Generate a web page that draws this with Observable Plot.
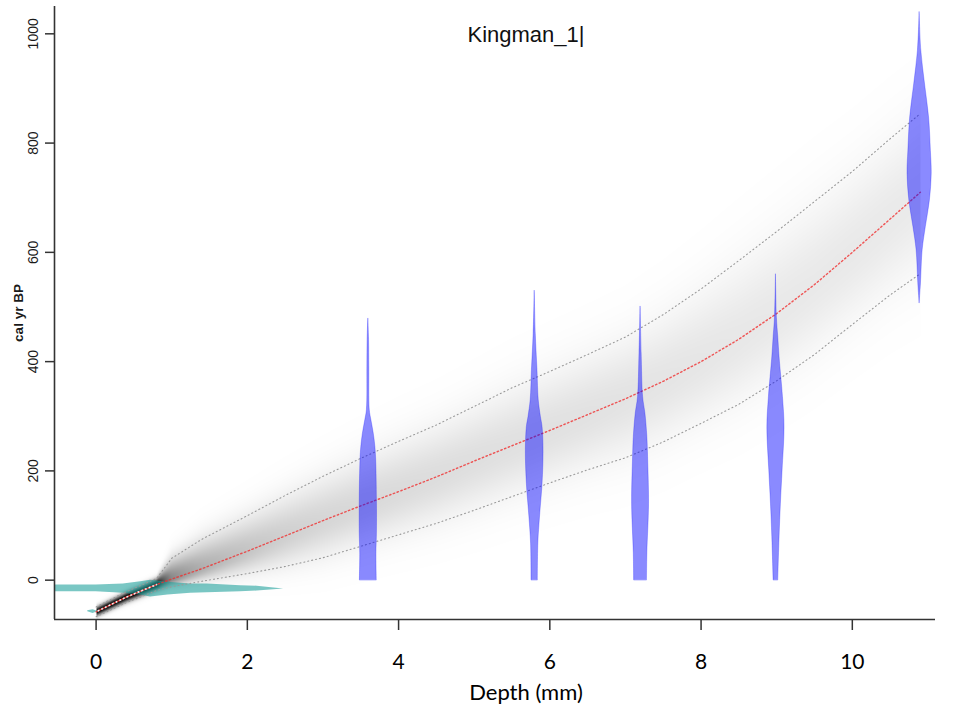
<!DOCTYPE html>
<html>
<head>
<meta charset="utf-8">
<script src="https://cdn.jsdelivr.net/npm/d3@7"></script>
<script src="https://cdn.jsdelivr.net/npm/@observablehq/plot@0.6"></script>
<style>
  body { margin: 0; background: #fff; }
  #chart { width: 953px; height: 719px; }
</style>
</head>
<body>
<div id="chart"></div>
<script>
// ---- labels and ticks ----
const title = "Kingman_1|";
const xLabel = "Depth (mm)";
const yLabel = "cal yr BP";
const xTicks = [0, 2, 4, 6, 8, 10];
const yTicks = [0, 200, 400, 600, 800, 1000];

// ---- age-depth model (depth in mm, ages in cal yr BP) ----
const modelDepth = [0, 0.4, 0.8, 1.0, 1.4, 2.0, 2.5, 3.0, 3.5, 4.0, 4.5, 5.0, 5.5, 6.0, 6.5, 7.0, 7.5, 8.0, 8.5, 9.0, 9.5, 10.0, 10.5, 10.9];
const modelMean  = [-58, -31, -8, 2, 21, 53, 81, 109, 136, 162, 189, 218, 246, 274, 303, 332, 364, 400, 441, 488, 541, 600, 661, 710];
const modelYoung = [-67, -41, -19, -12, -2, 12, 25, 41, 62, 83, 104, 128, 153, 178, 202, 224, 253, 287, 322, 365, 413, 468, 522, 561];
const modelOld   = [-49, -21, 3, 40, 75, 118, 155, 190, 223, 254, 284, 318, 352, 382, 413, 445, 486, 533, 585, 638, 693, 748, 808, 854];

// ---- calibrated date distributions (age, relative density) ----
const dateDepth = [3.60, 5.80, 7.20, 8.99, 10.89];
const date1Age  = [0, 49, 85, 146, 219, 244, 268, 293, 311, 390, 440, 479];
const date1Dens = [0.70, 0.67, 0.71, 0.71, 0.65, 0.58, 0.45, 0.25, 0.12, 0.08, 0.06, 0];
const date2Age  = [0, 67, 116, 177, 238, 280, 299, 330, 384, 450, 530];
const date2Dens = [0.26, 0.30, 0.44, 0.65, 0.73, 0.65, 0.51, 0.33, 0.23, 0.09, 0];
const date3Age  = [0, 49, 140, 225, 262, 305, 335, 415, 501];
const date3Dens = [0.53, 0.56, 0.70, 0.62, 0.56, 0.40, 0.21, 0.09, 0];
const date4Age  = [0, 79, 140, 201, 280, 335, 408, 445, 480, 560];
const date4Dens = [0.19, 0.30, 0.41, 0.55, 0.71, 0.58, 0.30, 0.19, 0.08, 0];
const date5Age  = [507, 543, 604, 646, 695, 744, 786, 847, 909, 969, 1040];
const date5Dens = [0, 0.11, 0.25, 0.51, 0.85, 1.0, 0.93, 0.78, 0.44, 0.14, 0];

// ---- surface age constraint (depth range, age bounds) ----
const surfaceDepth  = [-0.55, 0, 0.36, 0.59, 0.72, 0.95, 1.25, 1.47, 1.91, 2.13, 2.48];
const surfaceTop    = [-9, -9, -7, -3, 0, -4, -7, -7, -10, -11, -16];
const surfaceBottom = [-21, -21, -24, -27, -31, -27, -24, -23, -21, -20, -16];
const topDepth  = [-0.11, -0.04, 0.02];
const topUpper  = [-56, -54, -57];
const topLower  = [-58, -61, -58];

// ---- plot settings ----
const xDomain = [-0.55, 11.1];
const yDomain = [-72, 1050];
const violinHalfWidth = 0.16;   // mm at relative density 1
const shadeGain = 24;           // darkness scale of the age-model cloud
const shadeSpread = 1.55;       // range half-width in standard deviations

const modelRows = modelDepth.map((d, i) => ({depth: d, mean: modelMean[i], young: modelYoung[i], old: modelOld[i]}));
const surfaceRows = surfaceDepth.map((d, i) => ({depth: d, top: surfaceTop[i], bottom: surfaceBottom[i]}));
const topRows = topDepth.map((d, i) => ({depth: d, top: topUpper[i], bottom: topLower[i]}));

const dateAges = [date1Age, date2Age, date3Age, date4Age, date5Age];
const dateDens = [date1Dens, date2Dens, date3Dens, date4Dens, date5Dens];
const violinRows = dateDepth.flatMap((depth, k) =>
  dateAges[k].map((age, i) => ({
    date: k, age,
    x1: depth - dateDens[k][i] * violinHalfWidth,
    x2: depth + dateDens[k][i] * violinHalfWidth
  })));

function interp(xs, ys, x) {
  const i = d3.bisectRight(xs, x);
  if (i <= 0) return ys[0];
  if (i >= xs.length) return ys[ys.length - 1];
  const t = (x - xs[i - 1]) / (xs[i] - xs[i - 1]);
  return ys[i - 1] + t * (ys[i] - ys[i - 1]);
}

// probability cloud: skewed gaussian around the mean, darker where the range is narrow
function cloud(x, y) {
  if (x < modelDepth[0] || x > modelDepth[modelDepth.length - 1]) return 0;
  const m = interp(modelDepth, modelMean, x);
  const lo = interp(modelDepth, modelYoung, x);
  const hi = interp(modelDepth, modelOld, x);
  const sd = (y >= m ? hi - m : m - lo) / shadeSpread;
  const z = (y - m) / Math.max(sd, 1e-6);
  const peak = Math.min(1, shadeGain / Math.max(hi - lo, 1e-6));
  return peak * Math.exp(-0.5 * z * z);
}

const axisColor = "#333";
const sans = "Liberation Sans, Arial, sans-serif";
const calib = "Lato, Carlito, sans-serif";
const meanDash = "1.5 2.5";

const chart = Plot.plot({
  width: 953,
  height: 719,
  marginLeft: 54,
  marginRight: 18,
  marginTop: 6,
  marginBottom: 100,
  x: {domain: xDomain, axis: null},
  y: {domain: yDomain, axis: null},
  color: {type: "linear", domain: [0, 1], range: ["#ffffff", "#000000"]},
  style: {background: "white"},
  marks: [
    Plot.raster({fill: cloud, x1: xDomain[0], x2: xDomain[1], y1: yDomain[0], y2: yDomain[1], pixelSize: 1}),

    // surface constraint
    Plot.areaY(surfaceRows, {x: "depth", y1: "bottom", y2: "top", fill: "#1a9e9a", fillOpacity: 0.58}),
    Plot.areaY(topRows, {x: "depth", y1: "bottom", y2: "top", fill: "#1a9e9a", fillOpacity: 0.58}),

    // 95% range and mean of the age model
    Plot.line(modelRows, {x: "depth", y: "old", stroke: "#999", strokeWidth: 1.1, strokeDasharray: "1 3"}),
    Plot.line(modelRows, {x: "depth", y: "young", stroke: "#999", strokeWidth: 1.1, strokeDasharray: "1 3"}),
    Plot.line(modelRows.filter(d => d.depth <= 0.8), {x: "depth", y: "mean", stroke: "white", strokeWidth: 1.6,
      strokeDasharray: meanDash, strokeDashoffset: 2}),
    Plot.line(modelRows, {x: "depth", y: "mean", stroke: "#f03030", strokeOpacity: 0.8, strokeWidth: 1.4,
      strokeDasharray: meanDash}),

    // calibrated dates
    Plot.areaX(violinRows, {y: "age", x1: "x1", x2: "x2", z: "date", curve: "catmull-rom",
      fill: "#0000ff", fillOpacity: 0.46, stroke: "#0000ff", strokeOpacity: 0.25, strokeWidth: 1}),

    // axes
    Plot.ruleX([xDomain[0]], {stroke: axisColor, strokeWidth: 1.6}),
    Plot.ruleY([yDomain[0]], {stroke: axisColor, strokeWidth: 1.6}),
    Plot.axisY(yTicks, {tickSize: 9, tickFormat: () => "", stroke: axisColor, strokeWidth: 1.5}),
    Plot.text(yTicks, {y: d => d, text: d => String(d), frameAnchor: "left", dx: -21, rotate: -90,
      textAnchor: "middle", lineAnchor: "middle", fontSize: 14, fontFamily: sans, fill: "#1a1a1a"}),
    Plot.text([yLabel], {frameAnchor: "left", dx: -36, rotate: -90, textAnchor: "middle", lineAnchor: "middle",
      fontSize: 13.5, fontWeight: "bold", fontFamily: sans, fill: "#1a1a1a"}),
    Plot.axisX(xTicks, {tickSize: 11, tickPadding: 24, stroke: axisColor, strokeWidth: 1.5,
      fontSize: 21, fontFamily: calib, fill: "#000", label: null}),
    Plot.text([xLabel], {frameAnchor: "bottom", dx: 31, dy: 65, lineAnchor: "top",
      fontSize: 22, fontFamily: calib, fill: "#000"}),

    // title
    Plot.text([title], {frameAnchor: "top", dx: 31, dy: 20, lineAnchor: "top",
      fontSize: 22, fontFamily: sans, fill: "#111"})
  ]
});

document.getElementById("chart").appendChild(chart);
</script>
</body>
</html>
